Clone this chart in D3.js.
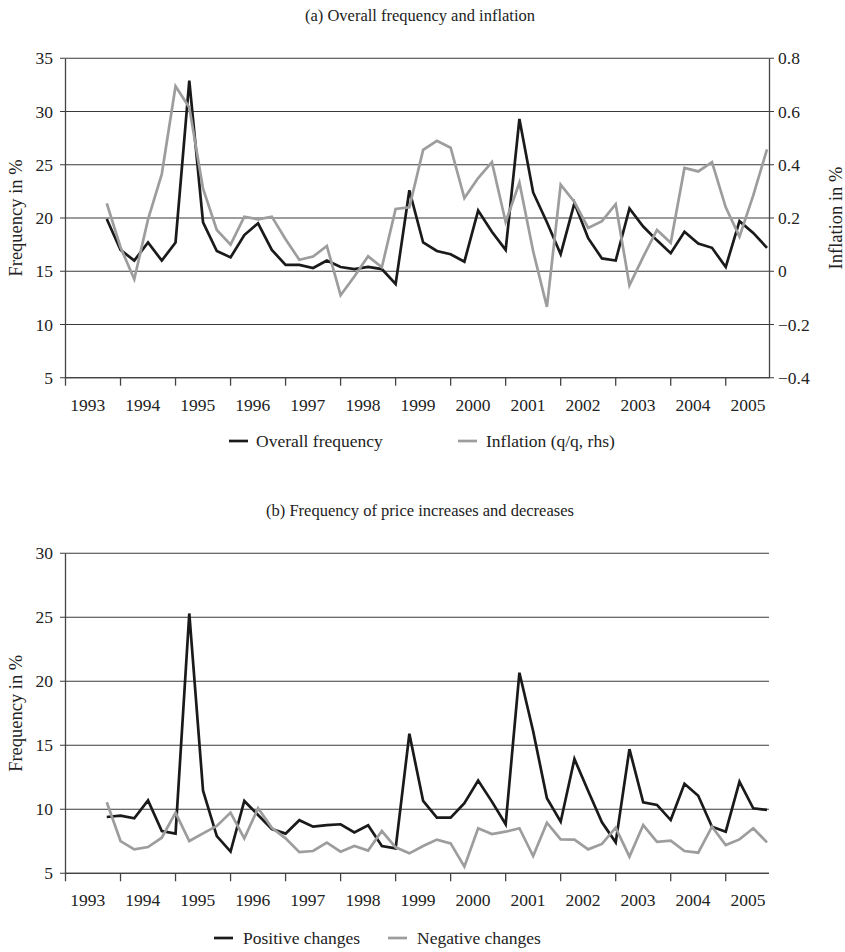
<!DOCTYPE html>
<html>
  <head>
    <meta charset="UTF-8">
    <script src="https://d3js.org/d3.v7.min.js"></script>
    <style>
      body { margin: 0; background: #fff; }
      svg text { font-family: "Liberation Serif", "DejaVu Serif", serif; fill: #222; }
      .grid line { stroke: #3a3a3a; stroke-width: 1.1; }
      .axis path, .axis line { stroke: #444; stroke-width: 1.3; }
    </style>
  </head>
  <body>
    <svg class="chart"></svg>
    <script>

      // years on the x axis, data start at 1993 Q4 (quarter index 3 from 1993 Q1)
      var years = [1993, 1994, 1995, 1996, 1997, 1998, 1999, 2000, 2001, 2002, 2003, 2004, 2005];
      var firstQuarter = 3;

      // panel (a)
      var overall = [19.9, 17.0, 16.0, 17.7, 16.0, 17.7, 32.9, 19.6, 16.9, 16.3,
                     18.4, 19.5, 17.0, 15.6, 15.6, 15.3, 16.0, 15.4, 15.2, 15.4,
                     15.2, 13.8, 22.6, 17.7, 16.9, 16.6, 15.9, 20.7, 18.7, 17.0,
                     29.3, 22.4, 19.6, 16.6, 21.4, 18.1, 16.2, 16.0, 20.9, 19.2,
                     17.9, 16.7, 18.7, 17.6, 17.2, 15.4, 19.7, 18.6, 17.2];
      var inflation = [0.255, 0.09, -0.03, 0.195, 0.365, 0.695, 0.615, 0.31, 0.155, 0.10,
                       0.205, 0.195, 0.205, 0.12, 0.043, 0.055, 0.095, -0.09, -0.02, 0.056,
                       0.015, 0.234, 0.24, 0.456, 0.49, 0.464, 0.275, 0.35, 0.41, 0.185,
                       0.333, 0.075, -0.134, 0.325, 0.26, 0.163, 0.188, 0.252, -0.053, 0.054,
                       0.155, 0.107, 0.388, 0.375, 0.41, 0.24, 0.13, 0.285, 0.458];
      var leftTicksA = [5, 10, 15, 20, 25, 30, 35];
      var rightTicksA = [-0.4, -0.2, 0, 0.2, 0.4, 0.6, 0.8];

      // panel (b)
      var positive = [9.4, 9.5, 9.3, 10.7, 8.3, 8.1, 25.3, 11.45, 7.9, 6.7,
                      10.65, 9.55, 8.46, 8.1, 9.15, 8.64, 8.77, 8.83, 8.2, 8.75,
                      7.13, 6.95, 15.9, 10.65, 9.35, 9.35, 10.47, 12.24, 10.6, 8.83,
                      20.67, 16.1, 10.86, 9.03, 13.93, 11.43, 8.98, 7.42, 14.7, 10.55,
                      10.34, 9.16, 12.0, 11.06, 8.64, 8.25, 12.16, 10.08, 9.95];
      var negative = [10.55, 7.52, 6.87, 7.05, 7.78, 9.74, 7.52, 8.12, 8.7, 9.74,
                      7.73, 10.08, 8.56, 7.73, 6.65, 6.74, 7.39, 6.69, 7.13, 6.77,
                      8.3, 7.03, 6.56, 7.13, 7.63, 7.34, 5.52, 8.52, 8.07, 8.25,
                      8.52, 6.35, 8.95, 7.65, 7.63, 6.87, 7.29, 8.56, 6.3, 8.77,
                      7.45, 7.55, 6.74, 6.61, 8.64, 7.21, 7.65, 8.52, 7.42];
      var leftTicksB = [5, 10, 15, 20, 25, 30];

      var width = 845, height = 952,
          left = 65, right = 769,
          font = "'Liberation Serif', 'DejaVu Serif', serif",
          labelSize = "17.5px",
          blackColor = "#1a1a1a", greyColor = "#9d9d9d";

      var svg = d3.select(".chart").attr("width", width).attr("height", height);

      var x = d3.scaleLinear().domain([0, 51]).range([65.5, 767]);

      function styleText(sel, size) {
        return sel.attr("font-family", font).style("font-size", size);
      }

      function drawPanel(opts) {
        var g = svg.append("g");
        var y = d3.scaleLinear().domain(opts.yDomain).range([opts.bottom, opts.top]);

        styleText(g.append("text"), "16.5px")
          .attr("x", 420).attr("y", opts.top - 37)
          .attr("text-anchor", "middle")
          .text(opts.title);

        // horizontal grid (extends a little left as tick marks)
        g.append("g").attr("class", "grid")
          .selectAll("line").data(opts.leftTicks).enter().append("line")
          .attr("x1", left - 5).attr("x2", opts.rightAxis ? right + 5 : right)
          .attr("y1", function(d) { return y(d); })
          .attr("y2", function(d) { return y(d); });

        // left axis
        var ya = g.append("g").attr("class", "axis")
          .attr("transform", "translate(" + left + ",0)")
          .call(d3.axisLeft(y).tickValues(opts.leftTicks).tickSize(0).tickPadding(12));
        ya.attr("font-family", null);
        styleText(ya.selectAll("text"), labelSize);

        if (opts.rightAxis) {
          var y2 = d3.scaleLinear().domain(opts.rightDomain).range([opts.bottom, opts.top]);
          var ra = g.append("g").attr("class", "axis")
            .attr("transform", "translate(" + right + ",0)")
            .call(d3.axisRight(y2).tickValues(opts.rightTicks).tickSize(0).tickPadding(9)
              .tickFormat(function(d) { return d === 0 ? "0" : d3.format(".1f")(d).replace("-", "\u2212"); }));
          ra.attr("font-family", null);
          styleText(ra.selectAll("text"), labelSize);
          styleText(g.append("text"), "18.5px")
            .attr("transform", "translate(836," + ((opts.top + opts.bottom) / 2) + ") rotate(-90)")
            .attr("text-anchor", "middle")
            .attr("dy", "0.35em")
            .text(opts.rightLabel);
        }

        // bottom axis with year ticks
        var xa = g.append("g").attr("class", "axis")
          .attr("transform", "translate(0," + opts.bottom + ")");
        xa.append("line").attr("x1", left).attr("x2", right);
        xa.selectAll(".tick").data(years).enter().append("line")
          .attr("x1", function(d, i) { return x(i * 4); })
          .attr("x2", function(d, i) { return x(i * 4); })
          .attr("y1", 0).attr("y2", 8);
        styleText(xa.selectAll("text").data(years).enter().append("text"), labelSize)
          .attr("x", function(d, i) { return x(i * 4 + 1.62); })
          .attr("y", 33)
          .attr("text-anchor", "middle")
          .text(function(d) { return d; });

        styleText(g.append("text"), "18.5px")
          .attr("transform", "translate(16," + ((opts.top + opts.bottom) / 2) + ") rotate(-90)")
          .attr("text-anchor", "middle")
          .attr("dy", "0.35em")
          .text("Frequency in %");

        // series
        opts.series.forEach(function(s) {
          var sy = s.scale === "right" ? d3.scaleLinear().domain(opts.rightDomain).range([opts.bottom, opts.top]) : y;
          var line = d3.line()
            .x(function(d, i) { return x(firstQuarter + i); })
            .y(function(d) { return sy(d); });
          g.append("path")
            .datum(s.values)
            .attr("d", line)
            .attr("fill", "none")
            .attr("stroke", s.color)
            .attr("stroke-width", 2.7)
            .attr("stroke-linejoin", "miter");
        });

        // legend
        var lg = g.append("g").attr("transform", "translate(0," + opts.legendY + ")");
        opts.series.forEach(function(s, i) {
          var lx = opts.legendX[i];
          lg.append("line")
            .attr("x1", lx).attr("x2", lx + 19)
            .attr("stroke", s.color).attr("stroke-width", 2.7);
          styleText(lg.append("text"), labelSize)
            .attr("x", opts.legendTextX[i]).attr("dy", "0.35em")
            .text(s.name);
        });
      }

      drawPanel({
        title: "(a) Overall frequency and inflation",
        top: 58.3, bottom: 377.7,
        yDomain: [5, 35], leftTicks: leftTicksA,
        rightAxis: true, rightDomain: [-0.4, 0.8], rightTicks: rightTicksA,
        rightLabel: "Inflation in %",
        legendY: 441, legendX: [229, 458], legendTextX: [256, 486],
        series: [
          {name: "Overall frequency", values: overall, color: blackColor},
          {name: "Inflation (q/q, rhs)", values: inflation, color: greyColor, scale: "right"}
        ]
      });

      drawPanel({
        title: "(b) Frequency of price increases and decreases",
        top: 553.3, bottom: 873.3,
        yDomain: [5, 30], leftTicks: leftTicksB,
        rightAxis: false,
        legendY: 938, legendX: [214, 388], legendTextX: [243, 417],
        series: [
          {name: "Positive changes", values: positive, color: blackColor},
          {name: "Negative changes", values: negative, color: greyColor}
        ]
      });

    </script>
  </body>
</html>
